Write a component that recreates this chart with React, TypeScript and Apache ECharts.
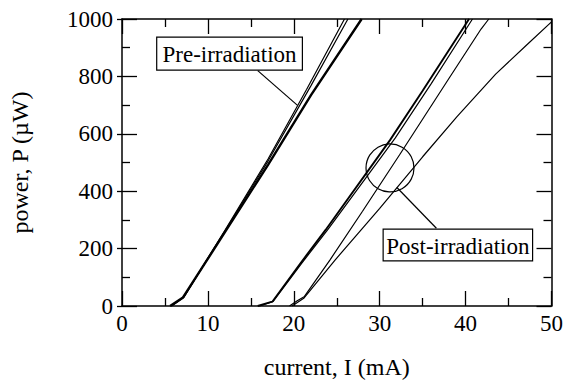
import React, { useEffect, useRef } from "react";
import * as echarts from "echarts";

// x ticks / y ticks
const xRange = [0, 50];
const yRange = [0, 1000];
const xInterval = 10;
const yInterval = 200;

// Pre-irradiation curves: [current mA, power µW]
const pre1 = [[5.6, 0], [7.1, 30], [12, 258], [17, 492], [22, 735], [27.9, 1000]];
const pre2 = [[5.7, 0], [7.2, 32], [12, 262], [17, 505], [22, 768], [26.3, 1000]];
const pre3 = [[5.8, 0], [7.2, 30], [12, 265], [17, 512], [21.5, 755], [25.9, 1000]];

// Post-irradiation curves
const post1 = [[15.8, 0], [17.5, 15], [20.8, 150], [23.7, 265], [31.2, 578], [35, 750], [40.4, 1000]];
const post2 = [[16.0, 0], [17.6, 16], [21, 152], [24, 268], [31.8, 585], [36, 775], [40.8, 1000]];
const post3 = [[19.5, 0], [20.4, 18], [21.2, 32], [24.2, 160], [28, 330], [32.3, 526], [38, 790], [41.8, 965], [42.7, 1000]];
const post4 = [[19.8, 0], [21.2, 28], [24.8, 160], [30, 340], [35, 520], [39, 660], [43.5, 808], [47.2, 912], [50, 990]];

// Annotation anchors (data space)
const preBox = { x0: 4.04, y0: 937, x1: 21.0, y1: 822, text: "Pre-irradiation" };
const preLeader = [[15.8, 820], [20.4, 700]];
const postBox = { x0: 30.4, y0: 268, x1: 47.8, y1: 157, text: "Post-irradiation" };
const postLeader = [[36.6, 271], [32.0, 413]];
const circleCenter = [31.2, 481];

const FONT = "'Liberation Serif', 'Times New Roman', serif";
const FS = 23;

export default function App() {
  const ref = useRef<HTMLDivElement>(null);
  useEffect(() => {
    const chart = echarts.init(ref.current!, null, { renderer: "svg" });
    const axisLine = { show: true, onZero: false, lineStyle: { color: "#000", width: 1.5 } };
    const tick = { show: true, inside: true, length: 15, lineStyle: { color: "#000", width: 1.3 } };
    const minor = { show: true, splitNumber: 2, length: 8, lineStyle: { color: "#000", width: 1.3 } };
    const label = { color: "#000", fontFamily: FONT, fontSize: FS, formatter: (v: number) => String(v) };
    const mk = (data: number[][], w: number) => ({
      type: "line",
      data,
      showSymbol: false,
      symbol: "none",
      lineStyle: { color: "#000", width: w },
      xAxisIndex: 0,
      yAxisIndex: 0,
      z: 3,
    });
    chart.setOption({
      animation: false,
      grid: { left: 120, right: 13, top: 19, bottom: 78 },
      xAxis: [
        {
          type: "value", min: xRange[0], max: xRange[1], interval: xInterval, position: "bottom",
          axisLine, axisTick: tick, minorTick: minor, splitLine: { show: false },
          axisLabel: { ...label, margin: 6 },
          name: "current, I (mA)", nameLocation: "middle", nameGap: 49,
          nameTextStyle: { color: "#000", fontFamily: FONT, fontSize: 24 },
        },
        {
          type: "value", min: xRange[0], max: xRange[1], interval: xInterval, position: "top",
          axisLine, axisTick: tick, minorTick: minor, splitLine: { show: false },
          axisLabel: { show: false },
        },
      ],
      yAxis: [
        {
          type: "value", min: yRange[0], max: yRange[1], interval: yInterval, position: "left",
          axisLine, axisTick: tick, minorTick: minor, splitLine: { show: false },
          axisLabel: { ...label, margin: 9 },
          name: "power, P (µW)", nameLocation: "middle", nameGap: 90,
          nameTextStyle: { color: "#000", fontFamily: FONT, fontSize: 24 },
        },
        {
          type: "value", min: yRange[0], max: yRange[1], interval: yInterval, position: "right",
          axisLine, axisTick: tick, minorTick: minor, splitLine: { show: false },
          axisLabel: { show: false },
        },
        {
          type: "value", min: yRange[0], max: yRange[1], interval: yInterval, position: "left",
          axisLine: { show: false, onZero: false },
          axisTick: { show: true, inside: false, length: 5, lineStyle: { color: "#000", width: 1.3 } },
          splitLine: { show: false }, axisLabel: { show: false },
        },
      ],
      series: [
        mk(pre1, 2.4), mk(pre2, 1.2), mk(pre3, 1.2),
        mk(post1, 1.9), mk(post2, 1.2), mk(post3, 1.2), mk(post4, 1.2),
      ],
    });

    const px = (p: number[]) => chart.convertToPixel({ xAxisIndex: 0, yAxisIndex: 0 }, p) as number[];
    const boxEls = (b: typeof preBox) => {
      const a = px([b.x0, b.y0]);
      const c = px([b.x1, b.y1]);
      return [
        {
          type: "rect",
          shape: { x: a[0], y: a[1], width: c[0] - a[0], height: c[1] - a[1] },
          style: { fill: "#fff", stroke: "#000", lineWidth: 1.2 },
          z: 10,
        },
        {
          type: "text",
          x: (a[0] + c[0]) / 2,
          y: (a[1] + c[1]) / 2 + 1,
          style: {
            text: b.text, fill: "#000", font: `${FS}px ${FONT}`,
            align: "center", verticalAlign: "middle",
          },
          z: 11,
        },
      ];
    };
    const lineEl = (pts: number[][]) => {
      const a = px(pts[0]);
      const b = px(pts[1]);
      return {
        type: "line",
        shape: { x1: a[0], y1: a[1], x2: b[0], y2: b[1] },
        style: { stroke: "#000", lineWidth: 1.2 },
        z: 9,
      };
    };
    const cc = px(circleCenter);
    chart.setOption({
      graphic: [
        ...boxEls(preBox),
        ...boxEls(postBox),
        lineEl(preLeader),
        lineEl(postLeader),
        {
          type: "circle",
          shape: { cx: cc[0], cy: cc[1], r: 24 },
          style: { fill: "none", stroke: "#000", lineWidth: 1.2 },
          z: 9,
        },
      ],
    });
    return () => chart.dispose();
  }, []);
  return <div ref={ref} style={{ position: "absolute", left: 0, top: 0, width: 566, height: 384 }} />;
}
